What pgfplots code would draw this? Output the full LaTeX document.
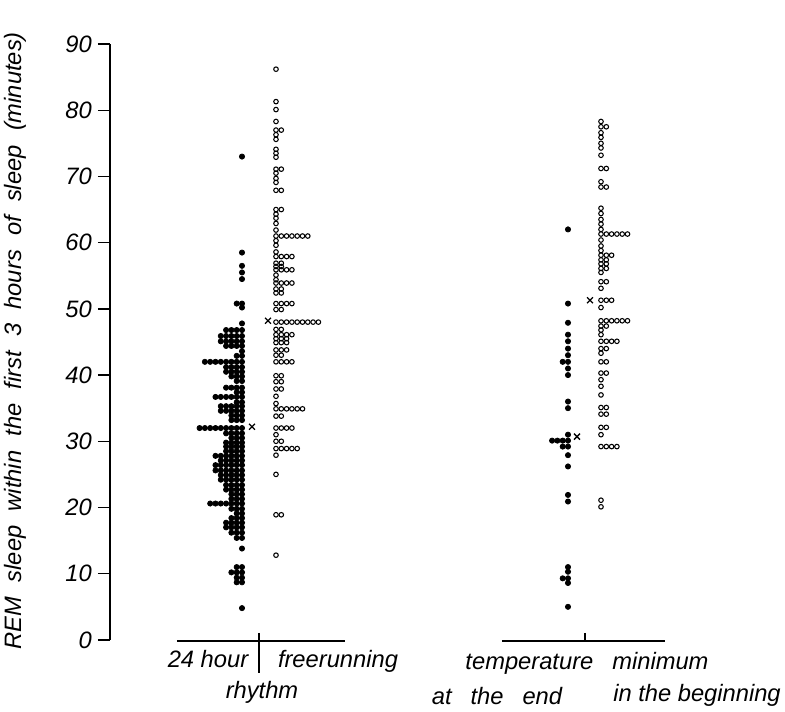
\documentclass[border=0pt]{standalone}
\usepackage{pgfplots}
\pgfplotsset{compat=1.18}
\usepackage{fontspec}
\setmainfont{Liberation Sans}
\newcommand\lab{\fontsize{13.5}{16}\selectfont\itshape}
\begin{document}
\begin{tikzpicture}
\begin{axis}[
  x=0.02cm, y=0.13244cm,
  xmin=110, xmax=785, ymin=0, ymax=90,
  axis x line=none,
  axis y line*=left,
  clip=false,
  ytick={0,10,...,90},
  ytick pos=left,
  tick align=outside,
  major tick length=0.24cm,
  every tick/.style={line width=0.8pt, black},
  axis line style={line width=0.8pt},
  /pgf/number format/assume math mode=true,
  yticklabel style={font=\lab, xshift=0pt},
]
% 24 hour rhythm (filled)
\addplot[only marks, mark=*, mark size=1.5pt, black] coordinates {
(242,73)
(242,58.5)
(242,56.5)
(242,55.5)
(242,54.5)
(242,50.8) (236.7,50.8)
(242,50.2)
(242,47.8)
(242,46.8) (236.7,46.8) (231.4,46.8) (226.1,46.8)
(242,45.9) (236.7,45.9) (231.4,45.9) (226.1,45.9) (220.8,45.9)
(242,45.1) (236.7,45.1) (231.4,45.1) (226.1,45.1) (220.8,45.1)
(242,44.4) (236.7,44.4) (231.4,44.4) (226.1,44.4)
(242,43.6)
(242,42.9) (236.7,42.9)
(242,42) (236.7,42) (231.4,42) (226.1,42) (220.8,42) (215.5,42) (210.2,42) (204.9,42)
(242,41.2) (236.7,41.2) (231.4,41.2) (226.1,41.2)
(242,40.5) (236.7,40.5) (231.4,40.5) (226.1,40.5)
(242,39.8) (236.7,39.8) (231.4,39.8)
(242,39.1) (236.7,39.1)
(242,38.1) (236.7,38.1) (231.4,38.1) (226.1,38.1)
(242,37.4) (236.7,37.4)
(242,36.7) (236.7,36.7) (231.4,36.7) (226.1,36.7) (220.8,36.7) (215.5,36.7)
(242,35.9) (236.7,35.9)
(242,35.3) (236.7,35.3) (231.4,35.3) (226.1,35.3) (220.8,35.3)
(242,34.6) (236.7,34.6) (231.4,34.6) (226.1,34.6) (220.8,34.6)
(242,33.9) (236.7,33.9) (231.4,33.9)
(242,33.2) (236.7,33.2) (231.4,33.2)
(242,32) (236.7,32) (231.4,32) (226.1,32) (220.8,32) (215.5,32) (210.2,32) (204.9,32) (199.6,32)
(242,31.2) (236.7,31.2) (231.4,31.2) (226.1,31.2)
(242,30.5) (236.7,30.5) (231.4,30.5)
(242,29.8) (236.7,29.8) (231.4,29.8) (226.1,29.8)
(242,29.2) (236.7,29.2) (231.4,29.2) (226.1,29.2)
(242,28.5) (236.7,28.5) (231.4,28.5) (226.1,28.5)
(242,27.8) (236.7,27.8) (231.4,27.8) (226.1,27.8) (220.8,27.8) (215.5,27.8)
(242,27.1) (236.7,27.1) (231.4,27.1) (226.1,27.1) (220.8,27.1)
(242,26.4) (236.7,26.4) (231.4,26.4) (226.1,26.4) (220.8,26.4) (215.5,26.4)
(242,25.6) (236.7,25.6) (231.4,25.6) (226.1,25.6) (220.8,25.6) (215.5,25.6)
(242,24.9) (236.7,24.9) (231.4,24.9) (226.1,24.9) (220.8,24.9)
(242,24.2) (236.7,24.2) (231.4,24.2) (226.1,24.2) (220.8,24.2)
(242,23.4) (236.7,23.4) (231.4,23.4) (226.1,23.4)
(242,22.7) (236.7,22.7) (231.4,22.7) (226.1,22.7)
(242,22) (236.7,22) (231.4,22)
(242,21.3) (236.7,21.3) (231.4,21.3)
(242,20.6) (236.7,20.6) (231.4,20.6) (226.1,20.6) (220.8,20.6) (215.5,20.6) (210.2,20.6)
(242,19.8) (236.7,19.8) (231.4,19.8)
(242,19.1) (236.7,19.1)
(242,18.4) (236.7,18.4) (231.4,18.4)
(242,17.7) (236.7,17.7) (231.4,17.7) (226.1,17.7)
(242,17) (236.7,17) (231.4,17) (226.1,17)
(242,16.2) (236.7,16.2) (231.4,16.2)
(242,15.4) (236.7,15.4)
(242,13.8)
(242,11) (236.7,11)
(242,10.2) (236.7,10.2) (231.4,10.2)
(242,9.4) (236.7,9.4)
(242,8.7) (236.7,8.7)
(242,4.8)
};
% freerunning (open)
\addplot[only marks, mark=o, mark size=1.3pt, black, mark options={line width=0.6pt}] coordinates {
(276,86.2)
(276,81.3)
(276,80.1)
(276,78.3)
(276,77) (281.3,77)
(276,76.3)
(276,75.6)
(276,74.1)
(276,73.5)
(276,72.9)
(276,71.1) (281.3,71.1)
(276,70.5)
(276,69.7)
(276,69.1)
(276,67.9) (281.3,67.9)
(276,65) (281.3,65)
(276,64.3)
(276,63.7)
(276,62.9)
(276,61.9)
(276,61) (281.3,61) (286.6,61) (291.9,61) (297.2,61) (302.5,61) (307.8,61)
(276,60.3)
(276,59.6)
(276,58.6)
(276,57.9) (281.3,57.9) (286.6,57.9) (291.9,57.9)
(276,56.9) (281.3,56.9)
(276,56.4) (281.3,56.4)
(276,55.9) (281.3,55.9) (286.6,55.9) (291.9,55.9)
(276,55.1)
(276,54.4)
(276,53.9) (281.3,53.9) (286.6,53.9) (291.9,53.9)
(276,53) (281.3,53)
(276,52.4) (281.3,52.4)
(276,50.8) (281.3,50.8) (286.6,50.8) (291.9,50.8)
(276,49.9) (281.3,49.9)
(276,48) (281.3,48) (286.6,48) (291.9,48) (297.2,48) (302.5,48) (307.8,48) (313.1,48) (318.4,48)
(276,46.9) (281.3,46.9)
(276,46.1) (281.3,46.1) (286.6,46.1) (291.9,46.1)
(276,45.5) (281.3,45.5) (286.6,45.5)
(276,44.9) (281.3,44.9) (286.6,44.9)
(276,43.8) (281.3,43.8) (286.6,43.8)
(276,43) (281.3,43)
(276,42) (281.3,42) (286.6,42) (291.9,42)
(276,39.9) (281.3,39.9)
(276,39) (281.3,39)
(276,37.9) (281.3,37.9)
(276,36.8)
(276,35.7)
(276,34.9) (281.3,34.9) (286.6,34.9) (291.9,34.9) (297.2,34.9) (302.5,34.9)
(276,33.8) (281.3,33.8)
(276,32) (281.3,32) (286.6,32) (291.9,32)
(276,31)
(276,30) (281.3,30)
(276,28.9) (281.3,28.9) (286.6,28.9) (291.9,28.9) (297.2,28.9)
(276,27.9)
(276,25)
(276,18.9) (281.3,18.9)
(276,12.8)
};
% temperature minimum at the end (filled)
\addplot[only marks, mark=*, mark size=1.5pt, black] coordinates {
(568,62)
(568,50.8)
(568,47.9)
(568,46.1)
(568,45.1)
(568,44)
(568,43)
(568,42) (562.7,42)
(568,41)
(568,40)
(568,36)
(568,35)
(568,31)
(568,30.1) (562.7,30.1) (557.4,30.1) (552.1,30.1)
(568,29.2) (562.7,29.2)
(568,27.9)
(568,26.2)
(568,21.9)
(568,20.9)
(568,11)
(568,10.3)
(568,9.3) (562.7,9.3)
(568,8.6)
(568,5)
};
% temperature minimum in the beginning (open)
\addplot[only marks, mark=o, mark size=1.3pt, black, mark options={line width=0.6pt}] coordinates {
(601,78.3)
(601,77.5) (606.3,77.5)
(601,76.6)
(601,75.9)
(601,75)
(601,74.3)
(601,73.2)
(601,71.2) (606.3,71.2)
(601,69.2)
(601,68.4) (606.3,68.4)
(601,65.2)
(601,64.4)
(601,63.5)
(601,62.8)
(601,62)
(601,61.3) (606.3,61.3) (611.6,61.3) (616.9,61.3) (622.2,61.3) (627.5,61.3)
(601,60.4)
(601,59.5)
(601,58.8)
(601,58.1) (606.3,58.1) (611.6,58.1)
(601,57.4) (606.3,57.4)
(601,56.8) (606.3,56.8)
(601,56.1) (606.3,56.1)
(601,55.5)
(601,54.1) (606.3,54.1)
(601,53.1)
(601,51.3) (606.3,51.3) (611.6,51.3)
(601,50.2)
(601,48.2) (606.3,48.2) (611.6,48.2) (616.9,48.2) (622.2,48.2) (627.5,48.2)
(601,47.4) (606.3,47.4)
(601,46.8)
(601,46.1)
(601,45.1) (606.3,45.1) (611.6,45.1) (616.9,45.1)
(601,44) (606.3,44)
(601,43.3)
(601,42) (606.3,42)
(601,40.3) (606.3,40.3)
(601,39.3)
(601,38.3)
(601,37)
(601,35.1) (606.3,35.1)
(601,34.1) (606.3,34.1)
(601,32.1) (606.3,32.1)
(601,31)
(601,29.2) (606.3,29.2) (611.6,29.2) (616.9,29.2)
(601,21.1)
(601,20.1)
};
% means
\addplot[only marks, mark=x, mark size=2.4pt, black, mark options={line width=0.75pt}] coordinates {
(252,32.2) (268,48.2) (577,30.7) (590,51.3)
};
% group baselines
\draw[line width=0.8pt] (axis cs:177,-0.15) -- (axis cs:345,-0.15);
\draw[line width=0.8pt] (axis cs:259,1.06) -- (axis cs:259,-4.98);
\draw[line width=0.8pt] (axis cs:502,-0.15) -- (axis cs:665,-0.15);
\draw[line width=0.8pt] (axis cs:585,1.06) -- (axis cs:585,-0.15);
% labels
\node[font=\lab, anchor=base] at (axis cs:208,-4.23) {24 hour};
\node[font=\lab, anchor=base] at (axis cs:338,-4.23) {freerunning};
\node[font=\lab, anchor=base] at (axis cs:262,-8.91) {rhythm};
\node[font=\lab, anchor=base] at (axis cs:587,-4.53) {temperature\hspace{0.8em}minimum};
\node[font=\lab, anchor=base] at (axis cs:497,-9.82) {at\hspace{0.8em}the\hspace{0.8em}end};
\node[font=\lab, anchor=base] at (axis cs:697,-9.36) {in the beginning};
\node[font=\lab, rotate=90] at (axis cs:15,45.2) {REM\hspace{0.6em}sleep\hspace{0.6em}within\hspace{0.6em}the\hspace{0.6em}first\hspace{0.6em}3\hspace{0.6em}hours\hspace{0.6em}of\hspace{0.6em}sleep\hspace{0.6em}(minutes)};
\coordinate (TL) at (axis cs:0,96.65);
\coordinate (BR) at (axis cs:785,-10.87);
\end{axis}
\pgfresetboundingbox
\path[use as bounding box] (TL) rectangle (BR);
\end{tikzpicture}
\end{document}
